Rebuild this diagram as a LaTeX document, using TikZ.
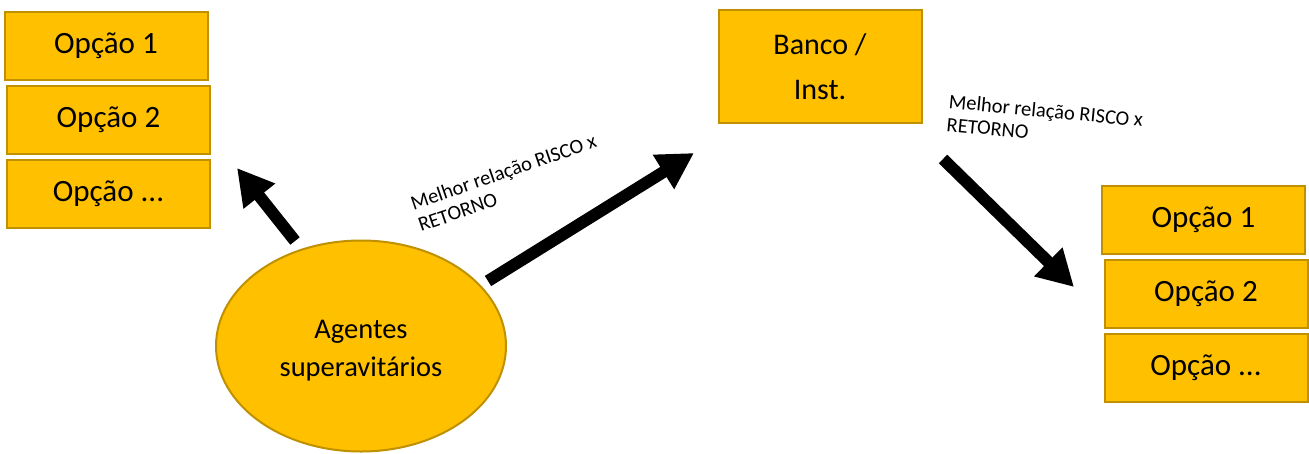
\documentclass[tikz,border=0pt]{standalone}
\usepackage{fontspec}
\setmainfont{Carlito}
\usetikzlibrary{arrows.meta,shapes.geometric}
\definecolor{gold}{HTML}{FFC000}
\definecolor{golddark}{HTML}{BF9000}
\tikzset{
  optbox/.style={draw=golddark, fill=gold, line width=2pt, minimum width=203pt, minimum height=68pt, inner sep=0pt, font=\fontsize{31}{36}\selectfont},
  bigarrow/.style={line width=12pt, -{Triangle[length=36pt,width=38pt]}},
  lbl/.style={align=left, inner sep=0pt, font=\fontsize{20.5}{23}\selectfont},
}
\begin{document}
\begin{tikzpicture}[x=1pt,y=-1pt]
\useasboundingbox (0,0) rectangle (1309,453);
% left column
\node[optbox] (l1) at (106,45.5) {Opção 1};
\node[optbox] (l2) at (108.5,119.5) {Opção 2};
\node[optbox] (l3) at (108.5,194) {Opção ...};
% right column
\node[optbox] (r1) at (1203.5,219.5) {Opção 1};
\node[optbox] (r2) at (1206,293.5) {Opção 2};
\node[optbox] (r3) at (1206,368) {Opção ...};
% bank
\node[optbox, minimum height=113pt, align=center, font=\fontsize{30}{45}\selectfont] (bank) at (820,66.5) {Banco /\\Inst.};
% ellipse
\node[ellipse, draw=golddark, fill=gold, line width=2pt, minimum width=290pt, minimum height=211pt, inner sep=0pt] (ag) at (361,346) {};
\node[align=center, font=\fontsize{28.5}{38}\selectfont] (agt) at (361,351) {Agentes\\superavitários};
% arrows
\coordinate (a1s) at (295,241);
\coordinate (a1e) at (237,168);
\coordinate (a2s) at (488,281);
\coordinate (a2e) at (694,153);
\coordinate (a3s) at (943,159);
\coordinate (a3e) at (1074,287);
\draw[bigarrow] (a1s) -- (a1e);
\draw[bigarrow] (a2s) -- (a2e);
\draw[bigarrow] (a3s) -- (a3e);
% labels
\node[lbl, rotate=19, anchor=base west] (t1) at (421,232) {Melhor relação RISCO x\\RETORNO};
\node[lbl, rotate=-5.5, anchor=base west] (t2) at (946,131) {Melhor relação RISCO x\\RETORNO};
\end{tikzpicture}
\end{document}
